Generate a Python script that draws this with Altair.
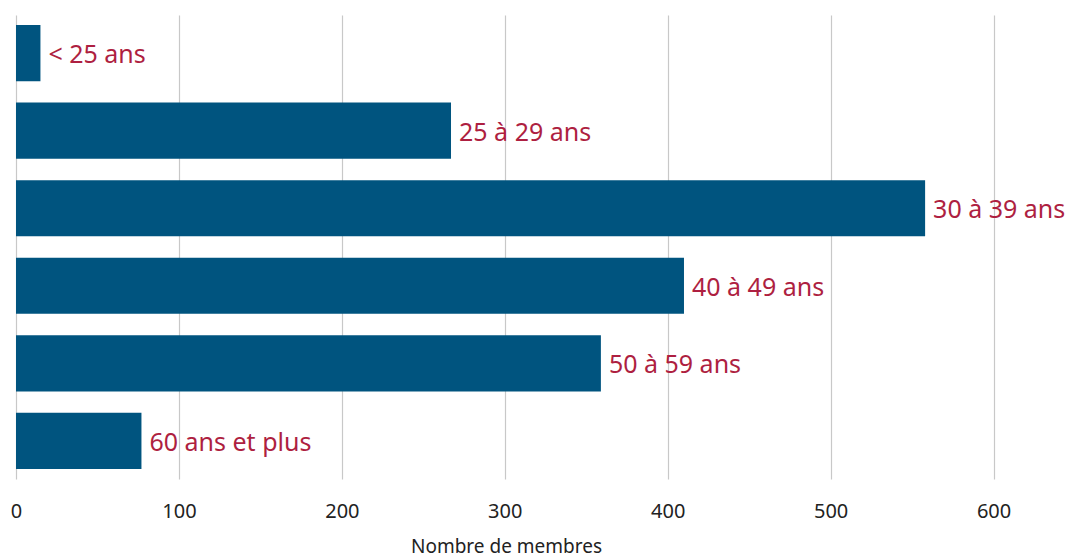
import altair as alt
import pandas as pd

categories = ["< 25 ans", "25 à 29 ans", "30 à 39 ans", "40 à 49 ans", "50 à 59 ans", "60 ans et plus"]
values = [15, 267, 558, 410, 359, 77]
tick_values = [0, 100, 200, 300, 400, 500, 600]

df = pd.DataFrame({"cat": categories, "value": values})

FONT = "Noto Sans"
BAR = "#00547F"
LABEL = "#AE1F41"

y_enc = alt.Y("cat:N", sort=categories, axis=None,
              scale=alt.Scale(paddingInner=0.275, paddingOuter=0.13))
x_scale = alt.Scale(domain=[0, 650], nice=False, zero=True)

base = alt.Chart(df)

bars = base.mark_bar(color=BAR).encode(
    y=y_enc,
    x=alt.X("value:Q", scale=x_scale,
            axis=alt.Axis(values=tick_values, title="Nombre de membres",
                          grid=True, gridColor="#C8C8C8", gridWidth=1.2,
                          domain=False, ticks=False, labelPadding=22,
                          labelFlush=False,
                          labelFont=FONT, labelFontSize=20, labelColor="#222222",
                          titleFont=FONT, titleFontSize=19, titleFontWeight="normal",
                          titleColor="#222222", titlePadding=16, titleX=490)),
)

text = base.mark_text(align="left", baseline="middle", dx=8, dy=2, font=FONT,
                      fontSize=25, color=LABEL).encode(
    y=y_enc,
    x=alt.X("value:Q", scale=x_scale),
    text="cat:N",
)

chart = (bars + text).properties(
    width=1059, height=464,
    background="white",
    autosize=alt.AutoSizeParams(type="none"),
    padding={"left": 16, "top": 15, "right": 0, "bottom": 78},
).configure_view(strokeWidth=0, stroke="transparent")

chart.save("out.html", embed_options={"renderer": "svg", "actions": False})
